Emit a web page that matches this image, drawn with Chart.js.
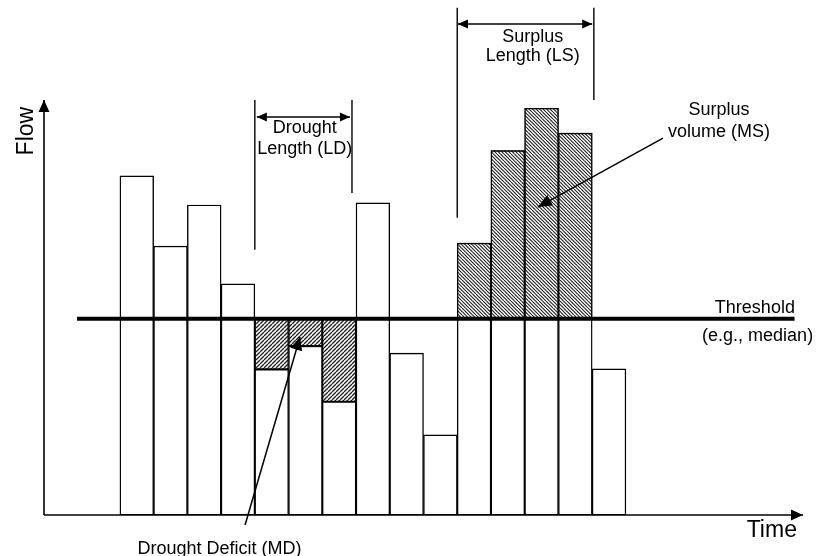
<!DOCTYPE html>
<html>
<head>
<meta charset="utf-8">
<script src="https://cdn.jsdelivr.net/npm/chart.js@4.4.1/dist/chart.umd.min.js"></script>
<style>
  html, body { margin: 0; background: #fff; }
  #wrap { width: 816px; height: 556px; }
</style>
</head>
<body>
<div id="wrap"><canvas id="flow_chart" width="816" height="556"></canvas></div>
<script>
// time steps, bar for step s spans s-1 .. s on the x scale
const steps = [1, 2, 3, 4, 5, 6, 7, 8, 9, 10, 11, 12, 13, 14, 15];
const flows = [81.7, 64.8, 74.7, 55.7, 35.1, 40.7, 27.3, 75.2, 39.0, 19.3, 65.5, 87.8, 98.0, 92.0, 35.2];
const threshold = 47.3;
const drought_steps = [5, 6, 7];
const surplus_steps = [11, 12, 13, 14];
const threshold_span = [-1.27, 20.0];

const FONT = '"Liberation Sans", Arial, sans-serif';

function flow_at(s) { return flows[steps.indexOf(s)]; }

function make_hatch(dir, tile, n, width) {
    const c = document.createElement('canvas');
    c.width = tile; c.height = tile;
    const g = c.getContext('2d');
    g.fillStyle = '#fff';
    g.fillRect(0, 0, tile, tile);
    g.strokeStyle = '#222';
    g.lineWidth = width;
    g.beginPath();
    for (let j = -n; j <= n; j++) {
        const x0 = j * tile / n;
        if (dir === '/') { g.moveTo(x0, tile); g.lineTo(x0 + tile, 0); }
        else { g.moveTo(x0, 0); g.lineTo(x0 + tile, tile); }
    }
    g.stroke();
    return g.createPattern(c, 'repeat');
}

function arrow_head(ctx, x0, y0, x1, y1, len, half) {
    const a = Math.atan2(y1 - y0, x1 - x0);
    const bx = x1 - len * Math.cos(a), by = y1 - len * Math.sin(a);
    ctx.beginPath();
    ctx.moveTo(x1, y1);
    ctx.lineTo(bx + half * Math.sin(a), by - half * Math.cos(a));
    ctx.lineTo(bx - half * Math.sin(a), by + half * Math.cos(a));
    ctx.closePath();
    ctx.fill();
}

function arrow(ctx, x0, y0, x1, y1, len, half, both) {
    ctx.beginPath();
    ctx.moveTo(x0, y0);
    ctx.lineTo(x1, y1);
    ctx.stroke();
    arrow_head(ctx, x0, y0, x1, y1, len, half);
    if (both) arrow_head(ctx, x1, y1, x0, y0, len, half);
}

function line(ctx, x0, y0, x1, y1) {
    ctx.beginPath();
    ctx.moveTo(x0, y0);
    ctx.lineTo(x1, y1);
    ctx.stroke();
}

// annotation layer: axes with arrows, length markers, labels
const sketch_plugin = {
    id: 'sketch',
    afterDatasetsDraw(chart) {
        const { ctx, scales: { x, y } } = chart;
        const X = v => x.getPixelForValue(v);
        const Y = v => y.getPixelForValue(v);
        ctx.save();
        ctx.fillStyle = '#000';
        ctx.strokeStyle = '#000';

        // axes
        ctx.lineWidth = 1.6;
        arrow(ctx, X(x.min), Y(0), X(x.min), Y(y.max), 12, 5.5);
        arrow(ctx, X(x.min), Y(0), X(x.max), Y(0), 12, 5.5);

        // drought length
        ctx.lineWidth = 1.4;
        line(ctx, X(4), Y(100), X(4), Y(63.9));
        line(ctx, X(6.88), Y(100), X(6.88), Y(77.6));
        arrow(ctx, X(4.06), Y(95.9), X(6.82), Y(95.9), 10, 4.5, true);

        // surplus length
        line(ctx, X(10), Y(122.2), X(10), Y(71.6));
        line(ctx, X(14.05), Y(122.2), X(14.05), Y(100));
        arrow(ctx, X(10.02), Y(118.3), X(14.0), Y(118.3), 10, 4.5, true);

        // pointers
        ctx.lineWidth = 1.5;
        arrow(ctx, X(16.1), Y(90.8), X(12.39), Y(74.2), 14, 6);
        arrow(ctx, X(3.71), Y(-2.4), X(5.34), Y(42.9), 13, 6);

        // labels
        ctx.font = '18px ' + FONT;
        ctx.textBaseline = 'alphabetic';
        ctx.textAlign = 'center';
        ctx.fillText('Drought', X(5.48), Y(92.0));
        ctx.fillText('Length (LD)', X(5.48), Y(87.0));
        ctx.fillText('Surplus', X(12.24), Y(114.0));
        ctx.fillText('Length (LS)', X(12.24), Y(109.4));
        ctx.fillText('Surplus', X(17.76), Y(96.4));
        ctx.fillText('volume (MS)', X(17.76), Y(91.1));
        ctx.fillText('Drought Deficit (MD)', X(2.95), Y(-9.4));
        ctx.textAlign = 'right';
        ctx.fillText('Threshold', X(20.01), Y(48.7));
        ctx.fillText('(e.g., median)', X(20.55), Y(41.9));

        ctx.font = '23px ' + FONT;
        ctx.fillText('Time', X(20.07), Y(-5.3));
        ctx.translate(X(-2.58), Y(92.5));
        ctx.rotate(-Math.PI / 2);
        ctx.textAlign = 'center';
        ctx.fillText('Flow', 0, 0);
        ctx.restore();
    }
};

const ctx = document.getElementById('flow_chart').getContext('2d');
const deficit_fill = make_hatch('/', 4, 1, 1.4);
const surplus_fill = make_hatch('\\', 7, 2, 1.1);

const bar_common = {
    type: 'bar',
    grouped: false,
    categoryPercentage: 1,
    barPercentage: 1,
    borderColor: '#000',
    borderWidth: 1.4,
    borderSkipped: false
};

window.flow_chart = new Chart(ctx, {
    type: 'bar',
    data: {
        datasets: [
            {
                type: 'line',
                order: 0,
                data: threshold_span.map(v => ({ x: v, y: threshold })),
                borderColor: '#000',
                borderWidth: 4,
                pointRadius: 0,
                clip: false
            },
            Object.assign({}, bar_common, {
                order: 1,
                data: drought_steps.map(s => ({ x: s - 0.5, y: [flow_at(s), threshold] })),
                backgroundColor: deficit_fill
            }),
            Object.assign({}, bar_common, {
                order: 1,
                data: surplus_steps.map(s => ({ x: s - 0.5, y: [threshold, flow_at(s)] })),
                backgroundColor: surplus_fill
            }),
            Object.assign({}, bar_common, {
                order: 2,
                data: steps.map((s, i) => ({ x: s - 0.5, y: flows[i] })),
                backgroundColor: '#fff'
            })
        ]
    },
    options: {
        responsive: false,
        animation: false,
        layout: { padding: { left: 44, right: 13, top: 100, bottom: 41 } },
        plugins: { legend: { display: false }, tooltip: { enabled: false } },
        scales: {
            x: {
                type: 'linear',
                min: -2.25,
                max: 20.25,
                offset: false,
                display: false,
                ticks: { stepSize: 1 },
                afterBuildTicks: s => { s.ticks = s.ticks.filter(t => Number.isInteger(t.value)); }
            },
            y: { type: 'linear', min: 0, max: 100, display: false }
        }
    },
    plugins: [sketch_plugin]
});
</script>
</body>
</html>
